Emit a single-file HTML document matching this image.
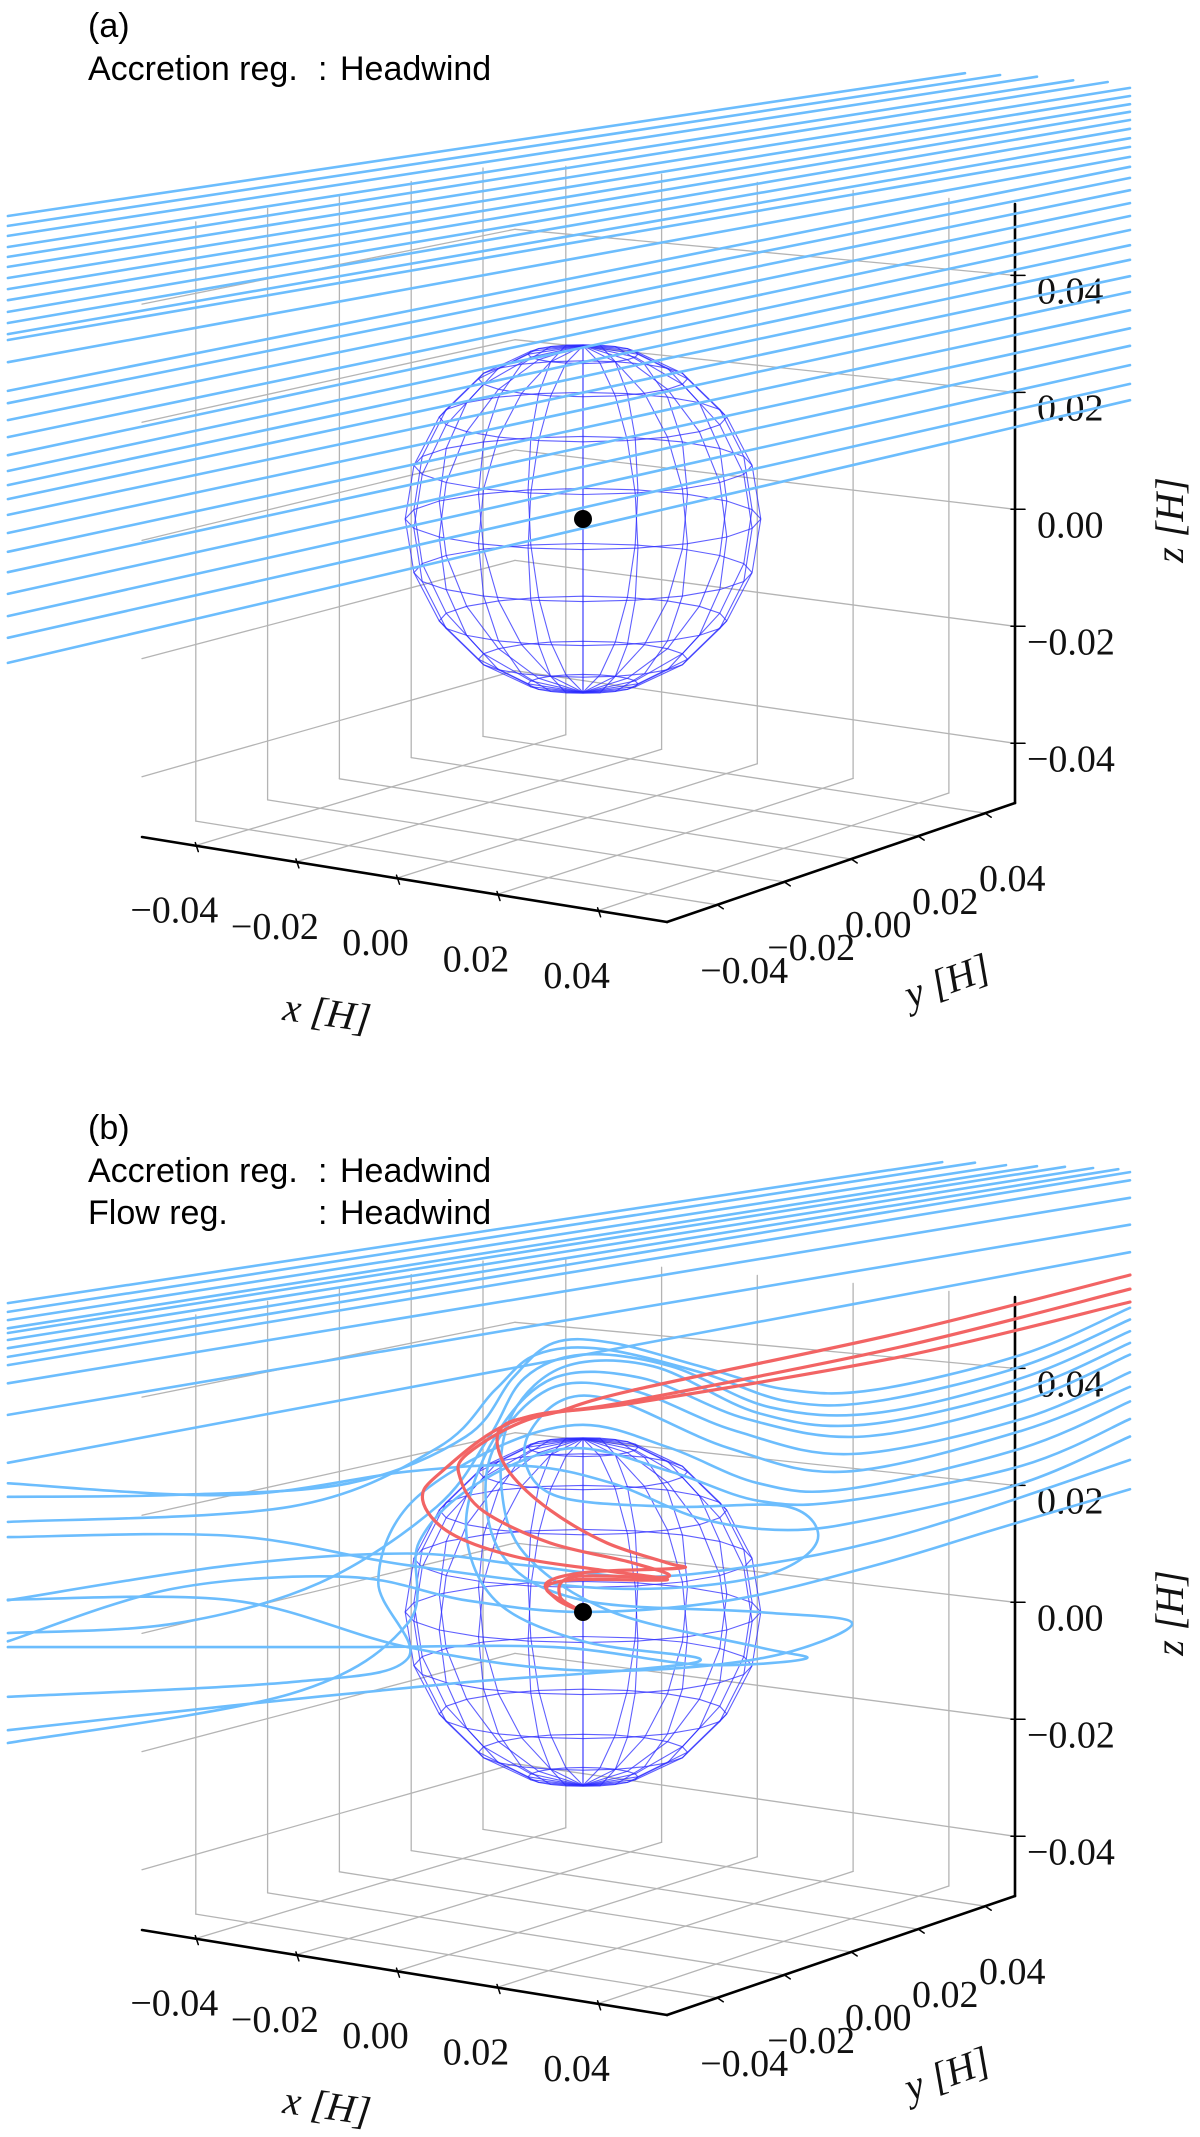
<!DOCTYPE html>
<html><head><meta charset="utf-8"><title>Accretion streamlines</title>
<style>
html,body{margin:0;padding:0;background:#fff;}
svg{display:block;}
.lab{font-family:"Liberation Sans",sans-serif;font-size:34px;fill:#000;}
.tick{font-family:"Liberation Serif",serif;font-size:38px;fill:#111;}
.ttl{font-family:"Liberation Serif",serif;font-size:40px;fill:#111;font-style:italic;}
</style></head>
<body>
<svg id="fig" width="1200" height="2137" viewBox="0 0 1200 2137" xmlns="http://www.w3.org/2000/svg">
  <rect x="0" y="0" width="1200" height="2137" fill="#fff"/>
  <g id="pa"></g>
  <g id="pb"></g>
  <text class="lab" x="88" y="37">(a)</text>
  <text class="lab" x="88" y="80">Accretion reg.</text>
  <text class="lab" x="318" y="80">:</text>
  <text class="lab" x="340" y="80">Headwind</text>
  <text class="lab" x="88" y="1139">(b)</text>
  <text class="lab" x="88" y="1182">Accretion reg.</text>
  <text class="lab" x="318" y="1182">:</text>
  <text class="lab" x="340" y="1182">Headwind</text>
  <text class="lab" x="88" y="1224">Flow reg.</text>
  <text class="lab" x="318" y="1224">:</text>
  <text class="lab" x="340" y="1224">Headwind</text>
</svg>
<script>
// ---- data (view coordinates in milli-H; u horizontal, v vertical) ----
const ticks = [-0.04, -0.02, 0.00, 0.02, 0.04];
const tickLabels = ["\u22120.04", "\u22120.02", "0.00", "0.02", "0.04"];
const xRange = [-0.0506, 0.0538];
const yRange = [-0.055, 0.0489];
const zRange = [-0.0502, 0.0522];

// panel a straight streamlines
const aLeftU = -98.3;
const aLeftV = [51.8,50.1,48.4,46.5,44.8,43.1,41.2,39.3,37.4,35.4,33.5,31.6,30.6,26.8,21.9,19.8,16.9,14.0,10.9,8.2,5.8,3.4,0.7,-2.4,-5.6,-9.1,-12.8,-16.6,-20.3,-24.6];
const aRightU = [65.3,71.3,77.6,83.8,89.7,93.5,93.5,93.5,93.5,93.5,93.5,93.5,93.5,93.5,93.5,93.5,93.5,93.5,93.5,93.5,93.5,93.5,93.5,93.5,93.5,93.5,93.5,93.5,93.5,93.5];
const aRightV = [76.2,75.9,75.6,75.0,74.7,73.7,72.3,70.9,69.6,68.2,66.7,65.1,63.6,61.9,60.2,58.3,56.2,54.0,51.8,49.4,46.8,44.3,41.5,38.8,35.7,32.6,29.6,26.3,23.1,20.3];

// panel b straight streamlines
const bLeftU = -98.3;
const bLeftV = [52.8,51.3,49.9,48.5,47.7,46.5,45.1,43.6,42.2,39.1,33.7,25.5];
const bRightU = [61.4,67,72.3,77.6,82.4,87.2,91.5,93.5,93.5,93.5,93.5,93.5];
const bRightV = [76.9,76.8,76.4,76.2,76.1,75.9,75.7,75.2,73.8,70.8,66.2,61.5];

// panel b deflected streamlines
const bWavy = [
 [[93.5,52],[75,44],[50,38],[35,38],[20,42],[5,46],[-5,46],[-12,40],[-20,30],[-40,22],[-70,20],[-98.3,19.7]],
 [[93.5,50],[75,42],[50,36],[35,36],[20,41],[3,45],[-8,44],[-15,38],[-25,28],[-50,18],[-98.3,15.4]],
 [[93.5,48],[75,40],[50,34],[32,35],[15,42],[0,44],[-10,40],[-16,30],[-25,18],[-45,5],[-70,-2],[-98.3,-3.6]],
 [[93.5,46],[75,38],[48,32],[30,34],[12,42],[-3,42],[-12,34],[-14,22],[-10,10],[5,0],[30,-6],[38,-8],[20,-9],[-5,-6],[-40,-6],[-98.3,-6]],
 [[93.5,44],[75,36],[48,30],[28,33],[10,40],[-5,40],[-15,30],[-20,15],[-15,2],[0,-5],[20,-8],[7,-10],[-20,-12],[-60,-16],[-98.3,-20.2]],
 [[93.5,41],[75,33],[46,27],[26,31],[8,38],[-6,38],[-16,26],[-14,10],[0,2],[30,0],[46,-2],[30,-8],[0,-10],[-30,-6],[-60,2],[-98.3,2.1]],
 [[93.5,38.5],[75,31],[45,24],[25,28],[6,36],[-4,36],[-10,28],[-5,20],[15,18],[35,18],[40,12],[30,6],[5,4],[-30,8],[-60,13],[-98.3,12.8]],
 [[93.5,36],[75,28],[45,21],[30,22],[15,28],[0,32],[-15,28],[-30,18],[-35,5],[-30,-8],[-50,-12],[-98.3,-14.5]],
 [[93.5,33],[75,25],[45,19],[30,19],[15,24],[-2,28],[-18,22],[-28,12],[-30,-2],[-50,-14],[-98.3,-22.4]],
 [[93.5,30],[75,22],[50,16],[35,14],[20,16],[5,22],[-10,25],[-30,24],[-60,20],[-98.3,22]],
 [[93.5,26],[70,18],[50,12],[30,8],[10,6],[-10,8],[-30,10],[-60,8],[-98.3,2]],
 [[93.5,21],[70,14],[50,8],[25,2],[0,0],[-20,2],[-40,6],[-70,4],[-98.3,-5]]
];

// panel b accreted (red) streamlines
const red1 = [[93.5,57.6],[54.2,47.7],[8.5,37.9],[-5.1,34.0],[-12.5,32.5],[-14.7,29.4],[-12.5,23.8],[-5.6,17.4],[4.1,11.8],[14.4,8.4],[16.6,7.5],[0.7,6.8],[-6.2,5.0],[-4.4,2.1],[0,0]];
const red2 = [[93.5,55.2],[54.2,45.3],[8.5,36.1],[-8.5,33.2],[-19.8,27.0],[-21.0,22.9],[-17.1,17.3],[-5.6,11.8],[8.5,8.4],[14.4,6.0],[-1.7,6.0],[-3.9,2.6],[0,0]];
const red3 = [[93.5,53.0],[54.2,43.6],[8.5,35.7],[-11.3,32.8],[-24.4,23.8],[-27.4,19.1],[-22.7,13.5],[-11.3,9.4],[2.9,7.2],[14.4,5.5],[-1.7,5.5],[-6.2,3.8],[0,0]];

// ---- geometry ----
const NS = "http://www.w3.org/2000/svg";
const S = 5.85;            // px per milli-H in view
const CX = 583, CY = 519;  // planet location (panel a)
const C00=[142,837], C10=[667,922], C01=[515,727], C11=[1015,803];
const H00=605, H10=600, H01=565, H11=599;

function vx(u){ return CX + u*S; }
function vy(v, off){ return CY + off - v*S; }

function proj(x, y, z, off){
  const fx = (x - xRange[0])/(xRange[1]-xRange[0]);
  const fy = (y - yRange[0])/(yRange[1]-yRange[0]);
  const bx = C00[0]*(1-fx)*(1-fy) + C10[0]*fx*(1-fy) + C01[0]*(1-fx)*fy + C11[0]*fx*fy;
  const by = C00[1]*(1-fx)*(1-fy) + C10[1]*fx*(1-fy) + C01[1]*(1-fx)*fy + C11[1]*fx*fy;
  const h = H00*(1-fx)*(1-fy) + H10*fx*(1-fy) + H01*(1-fx)*fy + H11*fx*fy;
  const fz = (z - zRange[0])/(zRange[1]-zRange[0]);
  return [bx, by + off - fz*h];
}

function mk(tag, attrs, parent){
  const el = document.createElementNS(NS, tag);
  for (const k in attrs) el.setAttribute(k, attrs[k]);
  parent.appendChild(el);
  return el;
}

function smoothPath(pts){
  let d = "M" + pts[0][0].toFixed(1) + "," + pts[0][1].toFixed(1);
  for (let i = 0; i < pts.length-1; i++){
    const p0 = pts[i-1] || pts[i], p1 = pts[i], p2 = pts[i+1], p3 = pts[i+2] || pts[i+1];
    const c1 = [p1[0]+(p2[0]-p0[0])/6, p1[1]+(p2[1]-p0[1])/6];
    const c2 = [p2[0]-(p3[0]-p1[0])/6, p2[1]-(p3[1]-p1[1])/6];
    d += " C" + c1[0].toFixed(1)+","+c1[1].toFixed(1)+" "+c2[0].toFixed(1)+","+c2[1].toFixed(1)+" "+p2[0].toFixed(1)+","+p2[1].toFixed(1);
  }
  return d;
}

function line(g, a, b, stroke, w, name){
  const el = mk("line", {x1:a[0].toFixed(1), y1:a[1].toFixed(1), x2:b[0].toFixed(1), y2:b[1].toFixed(1), stroke:stroke, "stroke-width":w, "stroke-linecap":"round"}, g);
  
  
  return el;
}

function drawAxes(g, off){
  const [x0,x1] = xRange, [y0,y1] = yRange, [z0,z1] = zRange;
  const gg = mk("g", {}, g);
  
  
  const gc = "#b4b4b4";
  ticks.forEach(t => {
    line(gg, proj(t,y0,z0,off), proj(t,y1,z0,off), gc, 1.3, 'x-gridline-floor');
    line(gg, proj(t,y1,z0,off), proj(t,y1,z1,off), gc, 1.3, 'x-gridline-back');
    line(gg, proj(x1,t,z0,off), proj(x0,t,z0,off), gc, 1.3, 'y-gridline-floor');
    line(gg, proj(x0,t,z0,off), proj(x0,t,z1,off), gc, 1.3, 'y-gridline-side');
    line(gg, proj(x0,y0,t,off), proj(x0,y1,t,off), gc, 1.3, 'z-gridline-side');
    line(gg, proj(x0,y1,t,off), proj(x1,y1,t,off), gc, 1.3, 'z-gridline-back');
  });
  // axis lines
  line(g, proj(x0,y0,z0,off), proj(x1,y0,z0,off), "#000", 2.6, 'x-axis-line');
  line(g, proj(x1,y0,z0,off), proj(x1,y1,z0,off), "#000", 2.6, 'y-axis-line');
  line(g, proj(x1,y1,z0,off), proj(x1,y1,z1,off), "#000", 2.6, 'z-axis-line');
  ticks.forEach((t,i) => {
    const px = proj(t,y0,z0,off);
    line(g, [px[0],px[1]-3], [px[0]+3,px[1]+6], "#000", 1.5, 'x-tick');
    const tx = mk("text", {x:(px[0]-21).toFixed(1), y:(px[1]+77).toFixed(1), "text-anchor":"middle", class:"tick"}, g);
    tx.textContent = tickLabels[i];
    
    
    const py = proj(x1,t,z0,off);
    line(g, [py[0],py[1]], [py[0]+6,py[1]+4], "#000", 1.5, 'y-tick');
    const ty = mk("text", {x:(py[0]+27).toFixed(1), y:(py[1]+78).toFixed(1), "text-anchor":"middle", class:"tick"}, g);
    ty.textContent = tickLabels[i];
    
    
    const pz = proj(x1,y1,t,off);
    line(g, [pz[0]-4,pz[1]], [pz[0]+10,pz[1]], "#000", 1.5, 'z-tick');
    const tz = mk("text", {x:(pz[0]+(t<0?12:22)).toFixed(1), y:(pz[1]+28).toFixed(1), class:"tick"}, g);
    tz.textContent = tickLabels[i];
    
    
  });
  const xt = mk("text", {x:327, y:1026+off, "text-anchor":"middle", class:"ttl", transform:"rotate(8 327 "+(1013+off)+")"}, g);
  xt.textContent = "x [H]";
  
  
  const yt = mk("text", {x:947, y:994+off, "text-anchor":"middle", class:"ttl", transform:"rotate(-20 947 "+(980+off)+")"}, g);
  yt.textContent = "y [H]";
  
  
  const zt = mk("text", {x:1170, y:520+off+13, "text-anchor":"middle", class:"ttl", transform:"rotate(-90 1170 "+(520+off)+")"}, g);
  zt.textContent = "z [H]";
  
  
}

function drawSphere(g, off){
  const sg = mk("g", {fill:"none", stroke:"#2a2aff", "stroke-width":1.1, "stroke-opacity":0.75}, g);
  
  
  const R = 176, e = 10*Math.PI/180;
  const pt = (th, ph) => {
    const X = Math.sin(th)*Math.cos(ph), Y = Math.sin(th)*Math.sin(ph), Z = Math.cos(th);
    return [CX + 1.01*R*X, CY + off - R*(Z*Math.cos(e) + Y*Math.sin(e))];
  };
  const nPh = 20, nTh = 10;
  for (let i = 0; i < nPh; i++){
    const ph = i*2*Math.PI/nPh;
    let d = "";
    for (let j = 0; j <= nTh; j++){ const p = pt(j*Math.PI/nTh, ph); d += (j?"L":"M")+p[0].toFixed(1)+","+p[1].toFixed(1); }
    const m = mk("path", {d:d}, sg);
    
    
  }
  for (let j = 1; j < nTh; j++){
    let d = "";
    for (let i = 0; i <= nPh; i++){ const p = pt(j*Math.PI/nTh, i*2*Math.PI/nPh); d += (i?"L":"M")+p[0].toFixed(1)+","+p[1].toFixed(1); }
    const p = mk("path", {d:d}, sg);
    
    
  }
}

function drawStream(g, pts, off, color, w, name){
  const sp = pts.map(p => [vx(p[0]), vy(p[1], off)]);
  const el = mk("path", {d:smoothPath(sp), fill:"none", stroke:color, "stroke-width":w, "stroke-linecap":"round", "stroke-linejoin":"round"}, g);
  
  
}

function drawPlanet(g, off){
  const c = mk("circle", {cx:CX, cy:CY+off, r:9, fill:"#000"}, g);
  
  
}

const BLUE = "#6cbdfd", RED = "#f26464";

// Panel a
const pa = document.getElementById("pa");
drawAxes(pa, 0);
drawSphere(pa, 0);
const la = mk("g", {}, pa);


aLeftV.forEach((v,i) => drawStream(la, [[aLeftU, v],[aRightU[i], aRightV[i]]], 0, BLUE, 2.6, 'streamline'));
drawPlanet(pa, 0);

// Panel b
const OFF = 1093;
const pb = document.getElementById("pb");
drawAxes(pb, OFF);
drawSphere(pb, OFF);
const lb = mk("g", {}, pb);


bLeftV.forEach((v,i) => drawStream(lb, [[bLeftU, v],[bRightU[i], bRightV[i]]], OFF, BLUE, 2.6, 'streamline'));
bWavy.forEach(p => drawStream(lb, p, OFF, BLUE, 2.6, 'deflected-streamline'));
drawStream(lb, red1, OFF, RED, 3.2, 'accreted-streamline-1');
drawStream(lb, red2, OFF, RED, 3.2, 'accreted-streamline-2');
drawStream(lb, red3, OFF, RED, 3.2, 'accreted-streamline-3');
drawPlanet(pb, OFF);
</script>
</body></html>
